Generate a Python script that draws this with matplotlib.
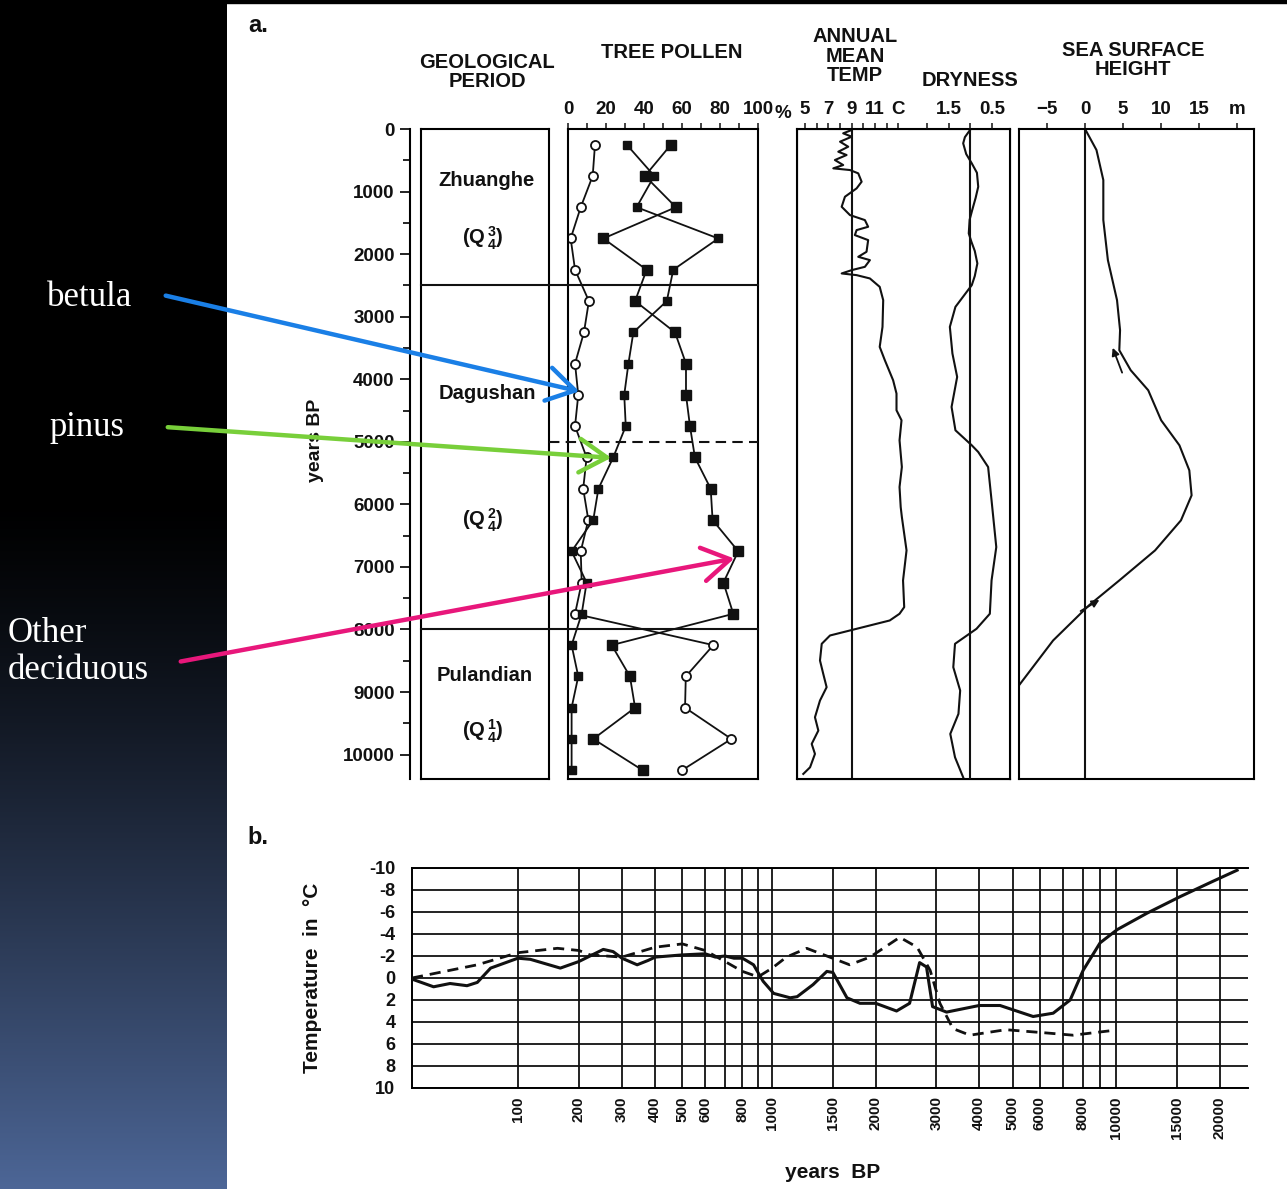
import numpy as np
import matplotlib
matplotlib.use('Agg')
import matplotlib.pyplot as plt
from matplotlib.lines import Line2D
from matplotlib.patches import FancyArrowPatch, Rectangle
from matplotlib.transforms import blended_transform_factory
from matplotlib.ticker import FixedLocator, MultipleLocator

plt.rcParams['font.family'] = ['Liberation Sans', 'DejaVu Sans']
plt.rcParams['font.weight'] = 'bold'
plt.rcParams['mathtext.fontset'] = 'custom'
plt.rcParams['mathtext.rm'] = 'Liberation Sans:bold'
plt.rcParams['mathtext.it'] = 'Liberation Sans:bold'
plt.rcParams['mathtext.bf'] = 'Liberation Sans:bold'
plt.rcParams['axes.unicode_minus'] = False

# ---- a. pollen samples (years BP, %)
pollen_age = [250, 750, 1250, 1750, 2250, 2750, 3250, 3750, 4250, 4750, 5250,
              5750, 6250, 6750, 7250, 7750, 8250, 8750, 9250, 9750, 10250]
betula = [14.2, 13.0, 6.7, 1.4, 3.7, 11.0, 8.4, 3.7, 5.4, 3.7, 9.8,
          8.0, 10.7, 6.7, 7.2, 3.7, 76.5, 62.0, 61.6, 86.0, 60.0]
pinus = [30.9, 45.4, 36.1, 79.1, 55.4, 52.0, 34.4, 31.8, 29.6, 30.4, 23.8,
         16.0, 13.3, 1.9, 9.8, 7.2, 1.9, 5.4, 1.9, 1.9, 1.9]
other_dec = [54.2, 40.5, 56.8, 18.6, 41.4, 35.3, 56.3, 62.1, 62.1, 64.2, 66.8,
             75.1, 76.1, 89.6, 81.8, 87.0, 23.0, 32.6, 35.3, 13.3, 39.3]

# annual mean temperature (C)
temp_age = [16, 69, 123, 203, 283, 363, 416, 496, 576, 629, 656, 709, 843, 949,
            1083, 1243, 1376, 1456, 1563, 1616, 1696, 1776, 1963, 2043, 2096,
            2203, 2256, 2309, 2336, 2389, 2523, 2736, 3163, 3483, 3696, 4016,
            4229, 4496, 4656, 4976, 5403, 5723, 6043, 6203, 6736, 7216, 7643,
            7749, 7856, 7989, 8096, 8229, 8496, 8709, 8923, 9136, 9403, 9616,
            9829, 9989, 10203, 10309]
temp_val = [9.0, 8.27, 9.0, 8.0, 8.7, 7.85, 8.56, 7.56, 8.27, 7.42, 8.85, 9.56,
            9.85, 9.42, 8.42, 8.14, 8.85, 10.13, 10.41, 9.42, 9.27, 10.41, 10.27,
            9.56, 10.56, 10.13, 9.0, 8.14, 9.42, 10.56, 11.4, 11.7, 11.64, 11.4,
            11.84, 12.55, 12.84, 12.84, 13.27, 13.1, 13.3, 13.1, 13.2, 13.3, 13.7,
            13.4, 13.5, 13.1, 12.26, 9.42, 7.14, 6.43, 6.28, 6.56, 6.85, 6.28,
            5.85, 6.14, 5.57, 5.85, 5.43, 4.85]

# dryness index
dry_age = [16, 130, 229, 400, 549, 700, 923, 1100, 1296, 1450, 1669, 1800, 1950,
           2149, 2350, 2496, 2843, 3163, 3589, 3963, 4443, 4816, 5056, 5163,
           5403, 5936, 6683, 7216, 7749, 7989, 8229, 8603, 8976, 9349, 9669,
           10043, 10363]
dry_val = [1.01, 1.13, 1.17, 1.10, 0.97, 0.85, 0.82, 0.88, 0.96, 1.02, 1.04,
           0.98, 0.90, 0.84, 0.90, 0.97, 1.35, 1.48, 1.42, 1.31, 1.44, 1.35,
           0.97, 0.82, 0.59, 0.51, 0.40, 0.51, 0.55, 0.86, 1.36, 1.40, 1.24,
           1.28, 1.47, 1.36, 1.17]

# sea surface height (m)
sea_age = [0, 336, 816, 1456, 2096, 2736, 3216, 3536, 3856, 4176, 4656, 5056,
           5456, 5856, 6256, 6736, 7216, 7616, 8176, 8896]
sea_h = [0, 1.5, 2.4, 2.4, 3.0, 4.2, 4.6, 4.5, 6.0, 8.3, 10.0, 12.4, 13.7,
         14.0, 12.6, 9.2, 4.5, 0.5, -4.2, -8.7]

# ---- b. temperature anomaly curves (years BP, degrees)
solid_yr = [0, 15, 28, 43, 53, 67, 100, 117, 165, 200, 253, 277, 300, 343, 377,
            400, 500, 600, 650, 700, 750, 800, 870, 935, 1010, 1128, 1182, 1315,
            1442, 1502, 1650, 1800, 2000, 2300, 2510, 2684, 2811, 2927, 3215,
            4000, 4600, 5740, 6564, 7356, 8025, 8990, 10080, 12320, 15370,
            19160, 22500]
solid_t = [0.1, 0.8, 0.5, 0.7, 0.4, -0.9, -1.8, -1.7, -0.9, -1.5, -2.6, -2.4,
           -1.8, -1.2, -1.6, -1.9, -2.1, -2.2, -1.9, -2.0, -1.8, -1.8, -1.2, 0.3,
           1.4, 1.8, 1.7, 0.6, -0.6, -0.5, 1.8, 2.3, 2.3, 3.0, 2.3, -1.4, -1.0,
           2.6, 3.1, 2.5, 2.5, 3.5, 3.2, 2.0, -0.7, -3.2, -4.4, -5.9, -7.4,
           -8.8, -9.8]
dash_yr = [0, 28, 53, 100, 160, 200, 223, 300, 400, 500, 600, 700, 800, 900,
           1000, 1100, 1260, 1470, 1680, 1925, 2350, 2640, 2880, 3075, 3355,
           3760, 4780, 6300, 7500, 9600]
dash_t = [0, -0.7, -1.2, -2.3, -2.7, -2.5, -2.1, -1.9, -2.8, -3.1, -2.5, -1.5,
          -0.6, -0.1, -0.9, -1.9, -2.7, -1.9, -1.2, -1.9, -3.7, -2.8, -0.7,
          2.3, 4.6, 5.2, 4.7, 5.0, 5.2, 4.8]

b_ticks = [100, 200, 300, 400, 500, 600, 800, 1000, 1500, 2000, 3000, 4000,
           5000, 6000, 8000, 10000, 15000, 20000]
b_extra_grid = [700, 900, 7000, 9000]

INK = '#111111'
W, H = 1287, 1189
AGE_MAX = 10390

fig = plt.figure(figsize=(W / 100, H / 100), dpi=100)


def box(x0, y0, x1, y1):
    # pixel box (top-left origin) -> figure rect
    return [x0 / W, 1 - y1 / H, (x1 - x0) / W, (y1 - y0) / H]


# dark side strip with a blue fade at the bottom
bg = fig.add_axes([0, 0, 227 / W, 1])
bg.axis('off')
ramp = np.linspace(0, 1, 400)[:, None]
shade = np.clip((ramp - 0.42) / 0.58, 0, 1) ** 1.25
bg.imshow(shade[..., None] * np.array([0.30, 0.40, 0.59]), aspect='auto',
          extent=[0, 1, 0, 1])
fig.add_artist(Rectangle((0, 1 - 3 / H), 1, 3 / H, transform=fig.transFigure,
                         color='k', zorder=5))

serif = dict(color='white', family='Liberation Serif', fontweight='normal',
             fontsize=25)
fig.text(90 / W, 1 - 298 / H, 'betula', ha='center', va='center', **serif)
fig.text(87 / W, 1 - 428 / H, 'pinus', ha='center', va='center', **serif)
fig.text(8 / W, 1 - 652 / H, 'Other\ndeciduous', ha='left', va='center',
         linespacing=1.15, **serif)


def head(txt, x, y, **kw):
    fig.text(x / W, 1 - y / H, txt, ha='center', va='center', color=INK,
             fontsize=14.5, linespacing=1.05, **kw)


fig.text(258 / W, 1 - 25 / H, 'a.', ha='center', va='center', fontsize=17,
         color=INK)
head('GEOLOGICAL\nPERIOD', 487, 72)
head('TREE POLLEN', 672, 52)
head('ANNUAL\nMEAN\nTEMP', 855, 56)
head('DRYNESS', 970, 80)
head('SEA SURFACE\nHEIGHT', 1133, 60)
fig.text(315 / W, 1 - 440 / H, 'years BP', rotation=90, ha='center',
         va='center', fontsize=14, color=INK)

LW = 1.5

# age scale
ax_age = fig.add_axes(box(410, 129, 411, 779))
ax_age.set_ylim(AGE_MAX, 0)
for s in ['top', 'right', 'bottom']:
    ax_age.spines[s].set_visible(False)
ax_age.spines['left'].set_linewidth(LW)
ax_age.set_xticks([])
ax_age.yaxis.set_major_locator(MultipleLocator(1000))
ax_age.yaxis.set_minor_locator(MultipleLocator(500))
ax_age.tick_params(axis='y', which='major', length=7, width=1.3,
                   labelsize=13.5, colors=INK, pad=4)
ax_age.tick_params(axis='y', which='minor', length=5, width=1.2)
ax_age.patch.set_alpha(0)

# geological period column
ax_geo = fig.add_axes(box(421, 129, 549, 779))
ax_geo.set_xlim(0, 1)
ax_geo.set_ylim(AGE_MAX, 0)
ax_geo.set_xticks([])
ax_geo.set_yticks([])
for s in ax_geo.spines.values():
    s.set_linewidth(LW)
geo_txt = dict(ha='center', va='center', fontsize=14.5, color=INK)
ax_geo.text(0.51, 816, 'Zhuanghe', **geo_txt)
ax_geo.text(0.48, 1744, r'(Q$\,^{3}_{4}$)', **geo_txt)
ax_geo.text(0.52, 4224, 'Dagushan', **geo_txt)
ax_geo.text(0.48, 6256, r'(Q$\,^{2}_{4}$)', **geo_txt)
ax_geo.text(0.50, 8736, 'Pulandian', **geo_txt)
ax_geo.text(0.48, 9632, r'(Q$\,^{1}_{4}$)', **geo_txt)

# period boundaries run across geology and pollen columns
trans = blended_transform_factory(fig.transFigure, ax_geo.transData)
for yr in [2500, 8000]:
    fig.add_artist(Line2D([421 / W, 758 / W], [yr, yr], transform=trans,
                          color=INK, lw=LW))
fig.add_artist(Line2D([549 / W, 758 / W], [5000, 5000], transform=trans,
                      color=INK, lw=LW, ls=(0, (5, 3))))

# tree pollen
ax_pol = fig.add_axes(box(568, 129, 758, 779))
ax_pol.set_xlim(0, 100)
ax_pol.set_ylim(AGE_MAX, 0)
ax_pol.plot(betula, pollen_age, color=INK, lw=1.3, marker='o', ms=6.5,
            mfc='white', mec=INK, mew=1.3)
ax_pol.plot(pinus, pollen_age, color=INK, lw=1.3, marker='s', ms=5.5,
            mfc=INK, mec=INK)
ax_pol.plot(other_dec, pollen_age, color=INK, lw=1.3, marker='s', ms=7,
            mfc=INK, mec=INK)
ax_pol.xaxis.tick_top()
ax_pol.set_xticks(range(0, 101, 20))
ax_pol.xaxis.set_minor_locator(MultipleLocator(10))
ax_pol.set_yticks([])
ax_pol.tick_params(axis='x', which='both', direction='out', length=4,
                   width=1.1, labelsize=13.5, colors=INK, pad=4)
for s in ax_pol.spines.values():
    s.set_linewidth(LW)
fig.text(783 / W, 1 - 113 / H, '%', ha='center', va='center', fontsize=13.5,
         color=INK)

# temperature and dryness share one column
ax_t = fig.add_axes(box(797, 129, 1010, 779))
ax_t.set_xlim(4.31, 22.57)
ax_t.set_ylim(AGE_MAX, 0)
ax_t.plot(temp_val, temp_age, color=INK, lw=1.5)
ax_t.axvline(9, color=INK, lw=LW)
ax_t.set_yticks([])
for s in ax_t.spines.values():
    s.set_linewidth(LW)

ax_d = ax_t.twiny()
ax_d.set_xlim(5.035, 0.081)
ax_d.plot(dry_val, dry_age, color=INK, lw=1.5)
ax_d.axvline(1.0, color=INK, lw=LW)
ax_d.set_xticks([1.5, 0.5])
ax_d.set_xticklabels(['1.5', '0.5'])
ax_d.xaxis.set_minor_locator(FixedLocator([2.0, 1.0]))

# twiny moves the temperature ticks to the bottom, so put them back on top
ax_t.xaxis.set_ticks_position('top')
ax_t.xaxis.set_label_position('top')
ax_t.set_xticks([5, 7, 9, 11, 13])
ax_t.set_xticklabels(['5', '7', '9', '11', 'C'])
ax_t.xaxis.set_minor_locator(FixedLocator([6, 8, 10, 12]))
for a in (ax_t, ax_d):
    a.tick_params(axis='x', which='both', direction='out', length=4,
                  width=1.1, labelsize=13.5, colors=INK, pad=4)

# sea surface height
ax_s = fig.add_axes(box(1019, 129, 1254, 779))
ax_s.set_xlim(-8.68, 22.2)
ax_s.set_ylim(AGE_MAX, 0)
ax_s.plot(sea_h, sea_age, color=INK, lw=1.5)
ax_s.axvline(0, color=INK, lw=LW)
ax_s.annotate('', xy=(3.5, 3456), xytext=(5.0, 3936),
              arrowprops=dict(arrowstyle='-|>', color=INK, lw=1.3,
                              mutation_scale=11))
ax_s.annotate('', xy=(2.2, 7504), xytext=(-0.9, 7728),
              arrowprops=dict(arrowstyle='-|>', color=INK, lw=1.3,
                              mutation_scale=11))
ax_s.xaxis.tick_top()
ax_s.set_xticks([-5, 0, 5, 10, 15, 20])
ax_s.set_xticklabels(['\u22125', '0', '5', '10', '15', 'm'])
ax_s.set_yticks([])
ax_s.tick_params(axis='x', direction='out', length=4, width=1.1,
                 labelsize=13.5, colors=INK, pad=4)
for s in ax_s.spines.values():
    s.set_linewidth(LW)

# arrows from the species names into the pollen diagram
arrows = [((163, 295), (582, 392), '#1a7fe6'),
          ((165, 427), (614, 458), '#78cf3a'),
          ((178, 662), (737, 558), '#e8177b')]
for (x0, y0), (x1, y1), col in arrows:
    fig.add_artist(FancyArrowPatch(
        (x0 / W, 1 - y0 / H), (x1 / W, 1 - y1 / H), transform=fig.transFigure,
        arrowstyle='->,head_length=0.9,head_width=0.55', mutation_scale=22,
        color=col, lw=3.2, zorder=10))

# ---- b. compressed time axis: log(1 + t/95) below 1000 BP, log above
U1 = np.log10(1095 / 95)
K = 1.0136


def fwd(x):
    x = np.asarray(x, dtype=float)
    lo = np.log10(1 + np.clip(x, 0, None) / 95)
    hi = U1 + K * np.log10(np.maximum(x, 1e-6) / 1000)
    return np.where(x <= 1000, lo, hi)


def inv(u):
    u = np.asarray(u, dtype=float)
    lo = 95 * (10 ** np.minimum(u, U1) - 1)
    hi = 1000 * 10 ** ((np.maximum(u, U1) - U1) / K)
    return np.where(u <= U1, lo, hi)


fig.text(258 / W, 1 - 838 / H, 'b.', ha='center', va='center', fontsize=17,
         color=INK)

ax_b = fig.add_axes(box(412, 868, 1248, 1088))
ax_b.set_xscale('function', functions=(fwd, inv))
ax_b.set_xlim(0, 24200)
ax_b.set_ylim(10, -10)
ax_b.plot(solid_yr, solid_t, color=INK, lw=2.2, zorder=3)
ax_b.plot(dash_yr, dash_t, color=INK, lw=2.0, ls=(0, (4, 2.5)), zorder=3)
ax_b.set_yticks(range(-10, 11, 2))
ax_b.set_yticklabels([str(v) for v in range(-10, 11, 2)])
ax_b.xaxis.set_major_locator(FixedLocator(b_ticks))
ax_b.xaxis.set_minor_locator(FixedLocator(b_extra_grid))
ax_b.set_xticklabels([str(v) for v in b_ticks], rotation=90)
ax_b.xaxis.set_minor_formatter(plt.NullFormatter())
ax_b.grid(True, which='both', color=INK, lw=1.3)
ax_b.tick_params(axis='both', which='both', length=0, colors=INK)
ax_b.tick_params(axis='y', labelsize=13, pad=12)
ax_b.tick_params(axis='x', labelsize=11, pad=6)
ax_b.spines['right'].set_visible(False)
for s in ['left', 'top', 'bottom']:
    ax_b.spines[s].set_linewidth(1.4)

fig.text(833 / W, 1 - 1173 / H, 'years  BP', ha='center', va='center',
         fontsize=15, color=INK)
fig.text(313 / W, 1 - 978 / H, 'Temperature  in  \u00b0C', rotation=90,
         ha='center', va='center', fontsize=15, color=INK)

fig.savefig('out.png', dpi=100, facecolor='white')
